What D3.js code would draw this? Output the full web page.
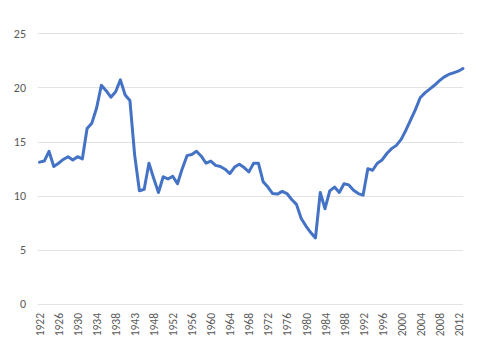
<!DOCTYPE html>
<html>
<head>
	<meta charset="utf-8">
	<title>line chart</title>
	<script src="https://cdn.jsdelivr.net/npm/d3@7"></script>
</head>
<style type="text/css">
	body { margin:0; background:#ffffff; }
	text { font-family: Calibri, Carlito, Lato, "Open Sans", sans-serif; fill:#595959; }
</style>
<body>
</body>
</html>
<script type="text/javascript">
	// categories (some war years are missing in the source)
	var years = [1922,1923,1924,1925,1926,1927,1928,1929,1930,1931,1932,1933,1934,1935,1936,1937,1938,
				1939,1940,1941,1943,1944,1945,1946,
				1948,1949,1950,1951,1952,1953,1954,1955,1956,1957,1958,1959,1960,1961,1962,1963,1964,
				1965,1966,1967,1968,1969,1970,1971,1972,1973,1974,1975,1976,1977,1978,1979,1980,1981,
				1982,1983,1984,1985,1986,1987,1988,1989,1990,1991,1992,1993,1994,1995,1996,1997,1998,
				1999,2000,2001,2002,2003,2004,2005,2006,2007,2008,2009,2010,2011,2012,2013];
	var values = [13.1,13.2,14.1,12.7,13.0,13.35,13.6,13.3,13.6,13.4,16.2,16.7,18.1,20.2,19.7,19.1,19.6,
				20.7,19.3,18.8,13.75,10.45,10.6,13.0,
				11.6,10.3,11.75,11.55,11.8,11.1,12.5,13.7,13.8,14.1,13.65,13.0,13.2,12.8,12.7,12.45,12.05,
				12.65,12.9,12.6,12.2,13.0,13.0,11.3,10.8,10.2,10.15,10.4,10.2,9.65,9.2,7.9,7.2,6.6,
				6.1,10.3,8.8,10.45,10.8,10.3,11.1,11.0,10.5,10.2,10.05,12.5,12.35,13.0,13.3,13.9,14.35,
				14.65,15.2,16.05,17.0,17.95,19.05,19.5,19.85,20.2,20.6,20.95,21.2,21.35,21.5,21.75];
	var yTicks = [0,5,10,15,20,25];
	var labelEvery = 4;

	var width = 482, height = 352;
	var svg = d3.select("body").append("svg").attr("width", width).attr("height", height);

	var x = d3.scalePoint().domain(years).range([39.5, 463]);
	var y = d3.scaleLinear().domain([0,25]).range([304, 33.3]);

	// gridlines
	svg.append("g").selectAll("line").data(yTicks).enter().append("line")
		.attr("x1", 38).attr("x2", 463)
		.attr("y1", function(d){return Math.round(y(d)) + 0.5})
		.attr("y2", function(d){return Math.round(y(d)) + 0.5})
		.attr("stroke", "#e3e3e3").attr("stroke-width", 1);

	// y labels
	svg.append("g").selectAll("text").data(yTicks).enter().append("text")
		.attr("x", 26).attr("y", function(d){return y(d)})
		.attr("dy", "0.35em").attr("text-anchor", "end")
		.style("font-size", "12px")
		.text(function(d){return d});

	// x labels, every 4th category
	var xAxis = d3.axisBottom(x)
		.tickValues(years.filter(function(d,i){return i % labelEvery == 0}))
		.tickSize(0).tickPadding(0);
	var gx = svg.append("g").attr("transform", "translate(0,304)").call(xAxis);
	gx.select(".domain").remove();
	gx.selectAll("text")
		.attr("transform", "rotate(-90)")
		.attr("x", -9).attr("y", 0).attr("dy", "0.35em")
		.attr("text-anchor", "end")
		.style("font-size", "11.5px").style("fill", "#595959")
		.style("font-family", "Calibri, Carlito, Lato, 'Open Sans', sans-serif");

	var line = d3.line()
		.x(function(d,i){return x(years[i])})
		.y(function(d){return y(d)});

	svg.append("path").datum(values)
		.attr("d", line)
		.attr("fill", "none")
		.attr("stroke", "#4472c4")
		.attr("stroke-width", 3)
		.attr("stroke-linejoin", "round")
		.attr("stroke-linecap", "round");
</script>
